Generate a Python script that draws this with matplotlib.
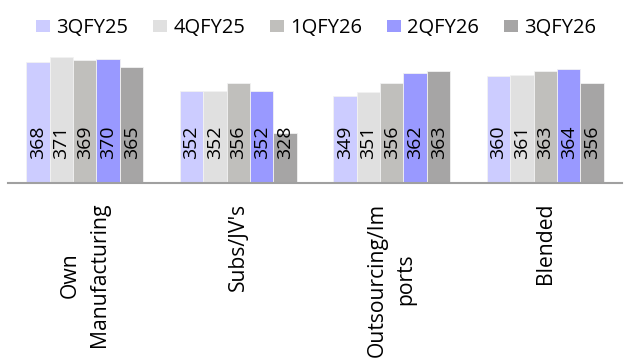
import matplotlib
matplotlib.use("Agg")
import matplotlib.pyplot as plt
import numpy as np
from matplotlib.patches import Patch

categories = ["Own\nManufacturing", "Subs/JV's", "Outsourcing/Im\nports", "Blended"]
series_names = ["3QFY25", "4QFY25", "1QFY26", "2QFY26", "3QFY26"]
values = {
    "3QFY25": [368, 352, 349, 360],
    "4QFY25": [371, 352, 351, 361],
    "1QFY26": [369, 356, 356, 363],
    "2QFY26": [370, 352, 362, 364],
    "3QFY26": [365, 328, 363, 356],
}
colors = ["#CCCCFF", "#E0E0E0", "#C0BFBC", "#9999FF", "#A6A5A5"]

plt.rcParams['font.family'] = ['Open Sans', 'DejaVu Sans']

fig = plt.figure(figsize=(6.24, 3.63), dpi=100)
ax = fig.add_axes([8/624, 1 - 183/363, 614/624, (183 - 40.8)/363])

x = np.arange(len(categories))
bw = 0.1525
n = len(series_names)
for i, name in enumerate(series_names):
    xs = x + (i - (n - 1) / 2) * bw
    ax.bar(xs, np.array(values[name]) - 300, bottom=300, width=bw,
           color=colors[i], edgecolor="#F2F2F2", linewidth=0.6, zorder=2)
    for xi, v in zip(xs, values[name]):
        ax.annotate(str(v), xy=(xi, 300), xytext=(0, 24), textcoords="offset pixels",
                    rotation=90, ha="center", va="bottom", fontsize=14, color="black",
                    zorder=3)

ax.set_xlim(-0.5, len(categories) - 0.5)
ax.set_ylim(300, 380)
for s in ["top", "right", "left"]:
    ax.spines[s].set_visible(False)
ax.spines["bottom"].set_color("#A0A0A0")
ax.spines["bottom"].set_linewidth(1.5)
ax.set_yticks([])
ax.set_xticks(x)
ax.set_xticklabels(categories, rotation=90, fontsize=15.2, ha="center", va="top",
                   multialignment="center", linespacing=1.5)
ax.tick_params(axis="x", length=0, pad=14)

handles = [Patch(facecolor=c, edgecolor="none") for c in colors]
fig.legend(handles, series_names, loc="center left", bbox_to_anchor=(36/624, 1 - 28/363),
           ncol=5, frameon=False, fontsize=14.5, handlelength=0.7, handleheight=0.55,
           handletextpad=0.3, columnspacing=1.24, borderaxespad=0, borderpad=0)

fig.savefig("out.png", dpi=100)
